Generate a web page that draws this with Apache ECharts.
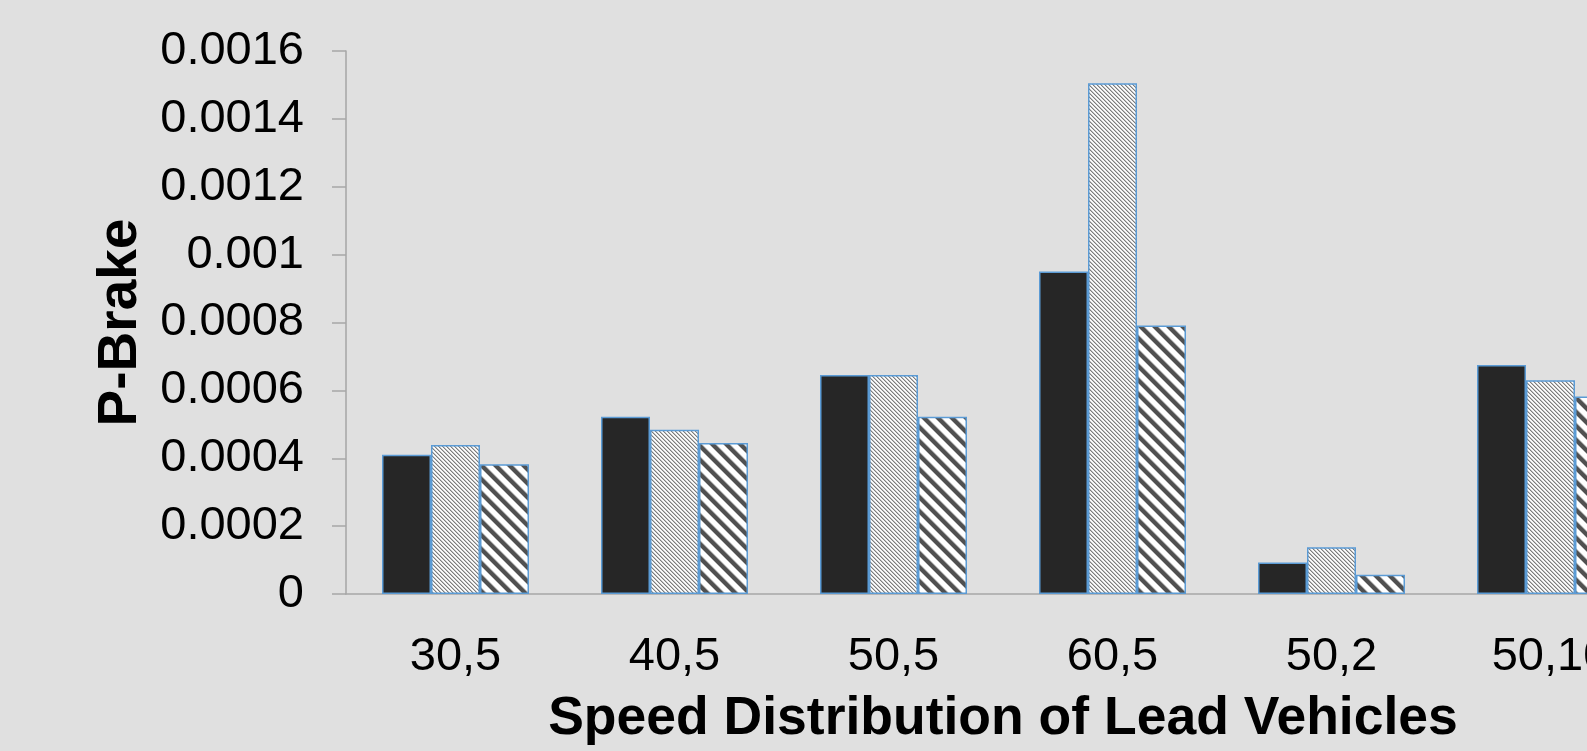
<!DOCTYPE html>
<html>
<head>
<meta charset="utf-8">
<script src="https://cdn.jsdelivr.net/npm/echarts@6/dist/echarts.min.js"></script>
<style>
html,body{margin:0;padding:0;background:#e0e0e0;overflow:hidden;width:1587px;height:751px;}
#chart{width:1660px;height:751px;}
</style>
</head>
<body>
<div id="chart"></div>
<script>
const categories = ['30,5', '40,5', '50,5', '60,5', '50,2', '50,10'];
const seriesSolid = [0.00041, 0.000522, 0.000645, 0.00095, 0.000093, 0.000675];
const seriesFine = [0.000439, 0.000484, 0.000645, 0.001505, 0.000138, 0.00063];
const seriesWide = [0.000382, 0.000445, 0.000522, 0.000791, 0.000057, 0.000582];
const yTickLabels = ['0', '0.0002', '0.0004', '0.0006', '0.0008', '0.001', '0.0012', '0.0014', '0.0016'];

function stripeTile(P, shades) {
  const c = document.createElement('canvas');
  c.width = P; c.height = P;
  const ctx = c.getContext('2d');
  const img = ctx.createImageData(P, P);
  for (let y = 0; y < P; y++) {
    for (let x = 0; x < P; x++) {
      const d = ((x - y) % P + P) % P;
      const v = shades[d];
      const i = (y * P + x) * 4;
      img.data[i] = v; img.data[i + 1] = v; img.data[i + 2] = v; img.data[i + 3] = 255;
    }
  }
  ctx.putImageData(img, 0, 0);
  return c;
}
const fineTile = stripeTile(4, [125, 195, 255, 240]);
const wideTile = stripeTile(14, [80, 80, 80, 80, 80, 140, 220, 255, 255, 255, 255, 255, 255, 180]);

const chart = echarts.init(document.getElementById('chart'));
const border = '#5b9bd5';
const font = '"Liberation Sans", Arial, sans-serif';
chart.setOption({
  backgroundColor: '#e0e0e0',
  animation: false,
  grid: { left: 346, top: 51, bottom: 152, right: 0, containLabel: false },
  xAxis: {
    type: 'category',
    data: categories,
    axisLine: { lineStyle: { color: '#a6a6a6', width: 1.5 } },
    axisTick: { show: false },
    axisLabel: { color: '#000', fontSize: 47, fontFamily: font, margin: 40 },
    name: 'Speed Distribution of Lead Vehicles',
    nameLocation: 'middle',
    nameGap: 98,
    nameTextStyle: { color: '#000', fontSize: 53.5, fontWeight: 'bold', fontFamily: font }
  },
  yAxis: {
    type: 'value',
    min: 0, max: 0.0016, interval: 0.0002,
    splitLine: { show: false },
    axisLine: { show: true, lineStyle: { color: '#a6a6a6', width: 1.5 } },
    axisTick: { show: true, length: 14, lineStyle: { color: '#a6a6a6', width: 1.5 } },
    axisLabel: {
      color: '#000', fontSize: 47, fontFamily: font, margin: 42,
      formatter: function (v) { return yTickLabels[Math.round(v / 0.0002)]; }
    },
    name: 'P-Brake',
    nameLocation: 'middle',
    nameGap: 198,
    nameTextStyle: { color: '#000', fontSize: 55, fontWeight: 'bold', fontFamily: font }
  },
  series: [
    { type: 'bar', data: seriesSolid, barWidth: 49, barGap: '0%',
      itemStyle: { color: '#262626', borderColor: border, borderWidth: 1.5 } },
    { type: 'bar', data: seriesFine, barWidth: 49, barGap: '0%',
      itemStyle: { color: { image: fineTile, repeat: 'repeat' }, borderColor: border, borderWidth: 1.5 } },
    { type: 'bar', data: seriesWide, barWidth: 49, barGap: '0%',
      itemStyle: { color: { image: wideTile, repeat: 'repeat' }, borderColor: border, borderWidth: 1.5 } }
  ]
});
</script>
</body>
</html>
